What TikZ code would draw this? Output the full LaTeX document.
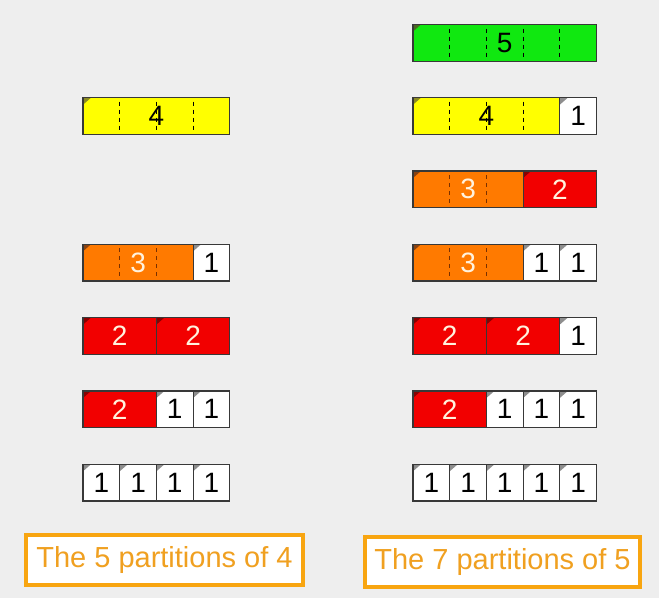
\documentclass[tikz,border=0pt]{standalone}
\usepackage{fontspec}
\setmainfont{Liberation Sans}
\definecolor{bg}{HTML}{EEEEEE}
\definecolor{cgreen}{HTML}{10E810}
\definecolor{dgreen}{HTML}{4A6A20}
\definecolor{cyellow}{HTML}{FFFF00}
\definecolor{dyellow}{HTML}{8A8A20}
\definecolor{corange}{HTML}{FF7A00}
\definecolor{dorange}{HTML}{8A4210}
\definecolor{cred}{HTML}{F20000}
\definecolor{dred}{HTML}{8A0000}
\definecolor{dwhite}{HTML}{8E8E8E}
\definecolor{light}{HTML}{FFF2DE}
\definecolor{edge}{HTML}{383838}
\definecolor{dashbrown}{HTML}{7A3000}
\definecolor{lorange}{HTML}{F8A510}
\definecolor{torange}{HTML}{F0A020}
\def\U{36.7}
\tikzset{
  piece/.style={draw=edge, line width=1.1pt, minimum height=\U pt, inner sep=0pt, outer sep=0pt},
  digit/.style={font=\fontsize{28}{28}\selectfont, inner sep=0pt},
  outline/.style={draw=edge, line width=1.1pt},
  lab/.style={draw=lorange, line width=4pt, fill=white, text=torange, inner sep=0pt,
              font=\fontsize{29}{29}\selectfont}
}
% name, x, y, n, fill, dark, textcolor, dashcolor
\newcommand\blk[8]{%
  \node[piece, fill=#5, minimum width=#4*\U pt, anchor=north west] (#1) at (#2,#3) {};
  \fill[#6] (#1.north west) -- ++(8pt,0pt) -- ++(-8pt,-7pt) -- cycle;
  \ifnum#4>2
    \foreach \k in {1,...,#4}{%
      \ifnum\k<#4
        \draw[#8, line width=0.8pt, dash pattern=on 4pt off 4pt]
          ([xshift=\k*\U pt, yshift=-4pt]#1.north west) -- ([xshift=\k*\U pt, yshift=4pt]#1.south west);
      \fi}%
  \fi
  \draw[outline] (#1.north west) rectangle (#1.south east);
  \node[digit, text=#7] (#1t) at (#1.center) {#4};
}
\newcommand\one[3]{\blk{#1}{#2}{#3}{1}{white}{dwhite}{black}{black}}
\newcommand\two[3]{\blk{#1}{#2}{#3}{2}{cred}{dred}{light}{dred}}
\newcommand\three[3]{\blk{#1}{#2}{#3}{3}{corange}{dorange}{light}{dashbrown}}
\newcommand\four[3]{\blk{#1}{#2}{#3}{4}{cyellow}{dyellow}{black}{black}}
\newcommand\five[3]{\blk{#1}{#2}{#3}{5}{cgreen}{dgreen}{black}{black}}
\begin{document}
\begin{tikzpicture}[x=1pt,y=-1pt]
  \fill[bg] (0,0) rectangle (659,598);
  \useasboundingbox (0,0) rectangle (659,598);
  % left column x0 = 83
  \four{La}{83}{97.7}
  \three{Lb1}{83}{244.3}
  \one{Lb2}{193.1}{244.3}
  \two{Lc1}{83}{317.6}
  \two{Lc2}{156.4}{317.6}
  \two{Ld1}{83}{391}
  \one{Ld2}{156.4}{391}
  \one{Ld3}{193.1}{391}
  \one{Le1}{83}{464.3}
  \one{Le2}{119.7}{464.3}
  \one{Le3}{156.4}{464.3}
  \one{Le4}{193.1}{464.3}
  % right column x0 = 413
  \five{Ra}{413}{24.5}
  \four{Rb1}{413}{97.7}
  \one{Rb2}{559.8}{97.7}
  \three{Rc1}{413}{171}
  \two{Rc2}{523.1}{171}
  \three{Rd1}{413}{244.3}
  \one{Rd2}{523.1}{244.3}
  \one{Rd3}{559.8}{244.3}
  \two{Re1}{413}{317.6}
  \two{Re2}{486.4}{317.6}
  \one{Re3}{559.8}{317.6}
  \two{Rf1}{413}{391}
  \one{Rf2}{486.4}{391}
  \one{Rf3}{523.1}{391}
  \one{Rf4}{559.8}{391}
  \one{Rg1}{413}{464.3}
  \one{Rg2}{449.7}{464.3}
  \one{Rg3}{486.4}{464.3}
  \one{Rg4}{523.1}{464.3}
  \one{Rg5}{559.8}{464.3}
  % labels
  \node[lab, minimum width=277pt, minimum height=50pt] (lab4) at (164.5,560) {The 5 partitions of 4};
  \node[lab, minimum width=275pt, minimum height=50pt] (lab5) at (502.5,561.5) {The 7 partitions of 5};
\end{tikzpicture}
\end{document}
